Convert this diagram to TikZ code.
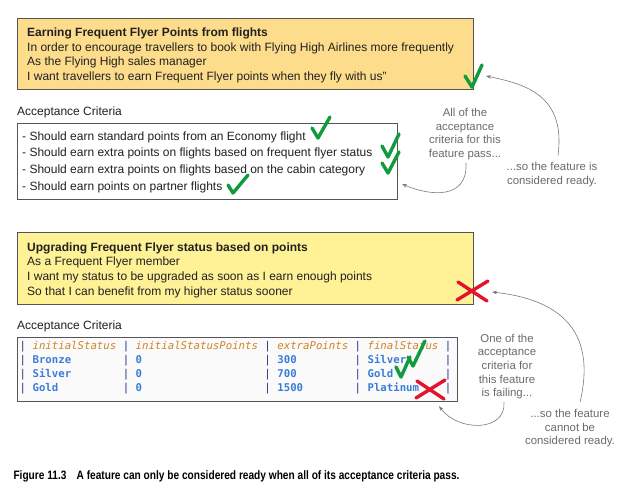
\documentclass[tikz,border=0pt]{standalone}
\usepackage{fontspec}
\setmainfont{Liberation Sans}
\newfontfamily\monofont{DejaVu Sans Mono}
\usetikzlibrary{arrows.meta}
\definecolor{orangefill}{HTML}{FDDC8C}
\definecolor{yellowfill}{HTML}{FEF196}
\definecolor{boxdraw}{HTML}{555555}
\definecolor{annot}{HTML}{6B6B6B}
\definecolor{arrowgray}{HTML}{7A7A7A}
\definecolor{checkgreen}{HTML}{129A3E}
\definecolor{crossred}{HTML}{E3132D}
\definecolor{headcol}{HTML}{D08424}
\definecolor{bodycol}{HTML}{3B7DD6}
\definecolor{pipecol}{HTML}{1F2F80}
\definecolor{tablefill}{HTML}{FAFAFA}
\newlength\cwid
\newcommand\tabfont{\monofont\fontsize{10.7}{13}\selectfont\setlength\cwid{0.60205em}}
\newcommand\pp{\textcolor{pipecol}{|}}
\newcommand\tcell[2]{\makebox[#1\cwid][l]{\hspace{\cwid}#2}}
\newcommand\trow[4]{\pp\tcell{15}{#1}\pp\tcell{21}{#2}\pp\tcell{13}{#3}\pp\tcell{13}{#4}\pp}
\newcommand\hd[1]{{\itshape\color{headcol}#1}}
\newcommand\bd[1]{{\bfseries\color{bodycol}#1}}
\tikzset{
  box/.style={draw=boxdraw, line width=0.9pt, inner sep=0pt, anchor=north west},
  txt/.style={anchor=base west, inner sep=0pt, font=\fontsize{12}{14}\selectfont, text=black!87},
  ann/.style={anchor=base, inner sep=0pt, font=\fontsize{11.4}{13}\selectfont, text=annot},
  trowst/.style={anchor=base west, inner sep=0pt, font=\tabfont},
  chk/.style={draw=checkgreen, line width=3.4pt, line cap=round, line join=round},
  crs/.style={draw=crossred, line width=3.4pt, line cap=round},
  arr/.style={draw=arrowgray, line width=0.6pt, -{Stealth[length=5pt,width=3.6pt]}},
}
\begin{document}
\begin{tikzpicture}[x=1pt,y=-1pt]
\useasboundingbox[fill=white] (0,0) rectangle (638,491);

% ---- first story ----
\node[box, fill=orangefill, minimum width=456pt, minimum height=71pt] (story1) at (17,18) {};
\node[txt, font=\fontsize{12}{14}\selectfont\bfseries] (s1t) at (27,36.5) {Earning Frequent Flyer Points from flights};
\node[txt] (s1a) at (27,51) {In order to encourage travellers to book with Flying High Airlines more frequently};
\node[txt] (s1b) at (27,65.5) {As the Flying High sales manager};
\node[txt] (s1c) at (27,80.5) {I want travellers to earn Frequent Flyer points when they fly with us"};

\node[txt] (ac1) at (17,115) {Acceptance Criteria};
\node[box, fill=white, minimum width=380pt, minimum height=76pt] (crit1) at (17,123) {};
\node[txt] (c1a) at (22,140) {- Should earn standard points from an Economy flight};
\node[txt] (c1b) at (22,156.7) {- Should earn extra points on flights based on frequent flyer status};
\node[txt] (c1c) at (22,173.3) {- Should earn extra points on flights based on the cabin category};
\node[txt] (c1d) at (22,190) {- Should earn points on partner flights};

% checks
\draw[chk] (465,76) -- (472,87) -- (482,65);
\draw[chk] (312,128) -- (318,138) -- (330,117);
\draw[chk] (382,146) -- (388,157) -- (399,134);
\draw[chk] (382,163) -- (388,173) -- (399,152);
\draw[chk] (228,185) -- (233,193) -- (248,175);

% annotations 1
\node[ann] (n1a) at (465,116) {All of the};
\node[ann] (n1b) at (465,130) {acceptance};
\node[ann] (n1c) at (465,143.5) {criteria for this};
\node[ann] (n1d) at (465,157.3) {feature pass...};
\node[ann] (m1a) at (552,170) {...so the feature is};
\node[ann] (m1b) at (552,184.3) {considered ready.};

\coordinate (e1) at (402,184);
\coordinate (e2) at (486,76);
\draw[arr] (n1d.south) ++(1,3) .. controls (468,200) and (430,196) .. (e1);
\draw[arr] (m1a.north) ++(6,-6) .. controls (566,95) and (525,84) .. (e2);

% ---- second story ----
\node[box, fill=yellowfill, minimum width=456pt, minimum height=72pt] (story2) at (17,232) {};
\node[txt, font=\fontsize{12}{14}\selectfont\bfseries] (s2t) at (27,251.5) {Upgrading Frequent Flyer status based on points};
\node[txt] (s2a) at (27,265.8) {As a Frequent Flyer member};
\node[txt] (s2b) at (27,280.2) {I want my status to be upgraded as soon as I earn enough points};
\node[txt] (s2c) at (27,295) {So that I can benefit from my higher status sooner};

\node[txt] (ac2) at (17,329.3) {Acceptance Criteria};
\node[box, fill=tablefill, minimum width=440pt, minimum height=64pt] (crit2) at (17,337) {};
\node[trowst] (r0) at (19.5,349.5) {\trow{\hd{initialStatus}}{\hd{initialStatusPoints}}{\hd{extraPoints}}{\hd{finalStatus}}};
\node[trowst] (r1) at (19.5,363.3) {\trow{\bd{Bronze}}{\bd{0}}{\bd{300}}{\bd{Silver}}};
\node[trowst] (r2) at (19.5,377.2) {\trow{\bd{Silver}}{\bd{0}}{\bd{700}}{\bd{Gold}}};
\node[trowst] (r3) at (19.5,391) {\trow{\bd{Gold}}{\bd{0}}{\bd{1500}}{\bd{Platinum}}};

% marks
\draw[crs] (458,282) -- (487,301);
\draw[crs] (457,300) -- (488,281);
\draw[chk] (396,367) -- (401,377) -- (410,357);
\draw[chk] (408,357) -- (413,366) -- (425,341);
\draw[crs] (417,381) -- (444,399);
\draw[crs] (416,398) -- (445,380);

% annotations 2
\node[ann] (n2a) at (507,342.3) {One of the};
\node[ann] (n2b) at (507,355.8) {acceptance};
\node[ann] (n2c) at (507,369.6) {criteria for};
\node[ann] (n2d) at (507,383.3) {this feature};
\node[ann] (n2e) at (507,396.8) {is failing...};
\node[ann] (m2a) at (570,417.7) {...so the feature};
\node[ann] (m2b) at (570,431) {cannot be};
\node[ann] (m2c) at (570,444.4) {considered ready.};

\coordinate (e3) at (439,406);
\coordinate (e4) at (492,292);
\draw[arr] (n2e.south) ++(-3,3) .. controls (506,432) and (458,432) .. (e3);
\draw[arr] (m2a.north) ++(10,-7) .. controls (596,335) and (565,300) .. (e4);

% caption
\node[anchor=base west, inner sep=0pt, font=\fontsize{12.2}{14}\selectfont\bfseries] (cap) at (13.3,479.5)
  {\resizebox{446pt}{\height}{Figure 11.3\hspace{1em}A feature can only be considered ready when all of its acceptance criteria pass.}};
\end{tikzpicture}
\end{document}
